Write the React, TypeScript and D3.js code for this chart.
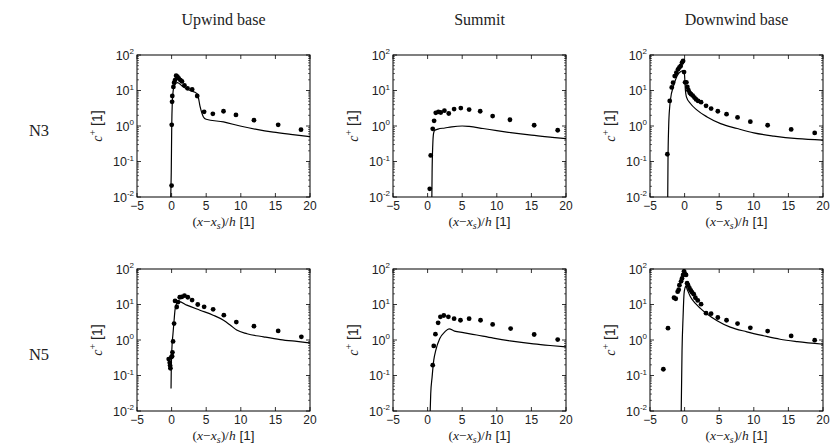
import React from "react";
import * as d3 from "d3";

const columnTitles = ["Upwind base", "Summit", "Downwind base"];
const rowLabels = ["N3", "N5"];
const xTicks = [-5, 0, 5, 10, 15, 20];
const yTickExps = [2, 1, 0, -1, -2];

// Row N3
const upN3PtsX = [0, 0.02, 0.07, 0.1, 0.26, 0.36, 0.5, 0.65, 0.84, 1.03, 1.27, 1.5, 1.85, 2.3, 2.97, 3.7, 4.7, 5.96, 7.5, 9.3, 11.9, 15.4, 18.7];
const upN3PtsY = [0.021, 1.08, 4.8, 7, 12.6, 16.6, 19.6, 26, 24.4, 22, 19.6, 18, 14, 11.5, 10.7, 7, 2.5, 2.2, 2.6, 2.05, 1.46, 1.08, 0.79];
const upN3LineX = [-0.2, -0.05, 0.02, 0.1, 0.17, 0.3, 0.5, 0.84, 1.7, 2.67, 3.63, 3.78, 4.12, 4.6, 4.99, 7.5, 9.9, 12.3, 14.7, 17.2, 20];
const upN3LineY = [0.005, 0.05, 1.0, 4.5, 7.5, 12, 15, 16.6, 12.6, 10, 8.3, 7.5, 3.5, 1.8, 1.55, 1.3, 1.0, 0.8, 0.67, 0.58, 0.5];

const suN3PtsX = [0.31, 0.45, 0.74, 0.94, 1.18, 1.56, 1.9, 2.43, 3.06, 3.83, 4.8, 6.0, 7.6, 9.4, 11.9, 15.4, 18.8];
const suN3PtsY = [0.017, 0.148, 0.83, 1.4, 2.35, 2.5, 2.4, 2.7, 2.25, 3.0, 3.2, 2.9, 2.6, 1.9, 1.5, 1.05, 0.76];
const suN3LineX = [0.6, 0.65, 0.75, 0.85, 1.0, 1.5, 2.5, 3.5, 5, 6, 8, 10, 12, 15, 18, 20];
const suN3LineY = [0.005, 0.05, 0.3, 0.6, 0.75, 0.82, 0.88, 0.95, 1.0, 0.97, 0.85, 0.74, 0.65, 0.55, 0.48, 0.44];

const dnN3PtsX = [-2.49, -2.15, -1.86, -1.67, -1.43, -1.19, -0.95, -0.75, -0.56, -0.37, -0.22, -0.08, 0.07, 0.26, 0.4, 0.55, 0.74, 0.93, 1.17, 1.42, 1.66, 1.95, 2.38, 3.1, 3.83, 4.8, 6.06, 7.65, 9.5, 12.0, 15.4, 18.8];
const dnN3PtsY = [0.16, 5.1, 12.2, 16.6, 25.5, 31.6, 39.6, 45, 49, 61, 68, 33, 17, 17, 12.6, 10.2, 8.6, 7.9, 7.2, 6.3, 5.6, 5.1, 4.7, 3.7, 3.1, 2.6, 2.15, 1.74, 1.32, 1.05, 0.8, 0.64];
const dnN3LineX = [-2.45, -2.4, -2.3, -2.15, -2.05, -1.57, -1.09, -0.6, -0.22, -0.03, 0.12, 0.26, 0.84, 1.8, 3.25, 5.2, 7.6, 10, 12.9, 16.3, 20];
const dnN3LineY = [0.005, 0.1, 1.0, 3.5, 5.4, 14, 25.5, 34, 36, 30, 10, 6.6, 4.3, 2.8, 1.8, 1.17, 0.85, 0.64, 0.52, 0.44, 0.4];

// Row N5
const upN5PtsX = [-0.42, -0.27, -0.22, -0.17, -0.03, 0.07, 0.12, 0.21, 0.36, 0.5, 0.74, 0.94, 1.18, 1.47, 1.86, 2.34, 2.96, 3.78, 4.7, 6.0, 7.55, 9.35, 11.9, 15.4, 18.75];
const upN5PtsY = [0.29, 0.23, 0.19, 0.16, 0.33, 0.35, 0.45, 0.91, 2.9, 12.6, 8.5, 11.7, 16, 16.3, 17.8, 16, 13.3, 10, 8.6, 7.3, 5.0, 3.2, 2.45, 1.8, 1.23];
const upN5LineX = [-0.08, -0.05, 0.03, 0.2, 0.36, 0.5, 0.74, 1.1, 2.2, 4.1, 6.0, 7.5, 8.5, 9.4, 10.9, 13.3, 15.7, 18.1, 20];
const upN5LineY = [0.043, 0.14, 0.51, 1.5, 3.6, 7.2, 10.7, 12, 9.6, 6.9, 5.0, 3.6, 2.6, 1.9, 1.5, 1.23, 1.03, 0.91, 0.83];

const suN5PtsX = [0.74, 0.89, 1.13, 1.52, 1.85, 2.34, 3.0, 3.83, 4.75, 6.0, 7.65, 9.4, 12.0, 15.4, 18.8];
const suN5PtsY = [0.195, 0.68, 1.46, 3.05, 4.5, 4.9, 4.5, 4.0, 3.6, 4.0, 3.6, 2.75, 2.1, 1.43, 1.03];
const suN5LineX = [0.36, 0.45, 0.65, 0.89, 1.18, 1.76, 2.5, 3.1, 3.9, 5.15, 7.1, 9.5, 11.9, 15.3, 17.7, 20];
const suN5LineY = [0.008, 0.03, 0.09, 0.27, 0.51, 1.1, 1.7, 2.07, 1.78, 1.62, 1.38, 1.13, 0.95, 0.78, 0.7, 0.64];

const dnN5PtsX = [-3.07, -2.4, -1.53, -1.28, -1.0, -0.85, -0.75, -0.51, -0.37, -0.22, -0.08, 0.07, 0.21, 0.36, 0.5, 0.7, 0.89, 1.08, 1.32, 1.56, 1.9, 2.38, 3.1, 3.83, 4.8, 6.06, 7.65, 9.5, 12.0, 15.4, 18.8];
const dnN5PtsY = [0.15, 2.15, 15.5, 14.5, 23, 26, 35, 45, 54, 68, 86, 72, 68, 40, 35, 29, 25, 22, 19.5, 15.5, 13, 10.2, 5.7, 5.5, 4.3, 3.6, 2.9, 2.2, 1.78, 1.3, 0.99];
const dnN5LineX = [-0.51, -0.37, -0.22, -0.08, 0.07, 0.16, 0.36, 0.84, 1.56, 2.28, 3.25, 4.7, 6.6, 9.0, 11.4, 13.8, 16.3, 20];
const dnN5LineY = [0.005, 0.51, 4.5, 20, 30, 33, 27, 16.6, 10.7, 7.8, 5.4, 3.5, 2.3, 1.7, 1.32, 1.05, 0.9, 0.76];

const panels = [
  [upN3PtsX, upN3PtsY, upN3LineX, upN3LineY],
  [suN3PtsX, suN3PtsY, suN3LineX, suN3LineY],
  [dnN3PtsX, dnN3PtsY, dnN3LineX, dnN3LineY],
  [upN5PtsX, upN5PtsY, upN5LineX, upN5LineY],
  [suN5PtsX, suN5PtsY, suN5LineX, suN5LineY],
  [dnN5PtsX, dnN5PtsY, dnN5LineX, dnN5LineY],
];

const W = 830;
const H = 443;
const colLeft = [137, 393, 650];
const rowTop = [55, 269];
const pw = 173;
const ph = 142;

const serif = "'Liberation Serif', 'DejaVu Serif', serif";
const sans = "'Liberation Sans', Arial, sans-serif";

function Panel({ idx }: { idx: number }) {
  const col = idx % 3;
  const row = Math.floor(idx / 3);
  const [px, py, lx, ly] = panels[idx];
  const x = d3.scaleLinear().domain([-5, 20]).range([0, pw]);
  const y = d3.scaleLog().domain([0.01, 100]).range([ph, 0]);
  const lineData = lx.map((v, i) => [v, ly[i]] as [number, number]);
  const line = d3
    .line<[number, number]>()
    .x((d) => x(d[0]))
    .y((d) => y(d[1]))
    .curve(d3.curveMonotoneX);
  const minor: number[] = [];
  for (let e = -2; e < 2; e++) {
    for (let k = 2; k <= 9; k++) minor.push(k * Math.pow(10, e));
  }
  const clipId = `clip${idx}`;
  const cx = pw / 2;
  return (
    <g transform={`translate(${colLeft[col]},${rowTop[row]})`}>
      <defs>
        <clipPath id={clipId}>
          <rect x={0} y={0} width={pw} height={ph} />
        </clipPath>
      </defs>
      <g clipPath={`url(#${clipId})`}>
        <path d={line(lineData) || ""} fill="none" stroke="black" strokeWidth={1.2} />
        {px.map((v, i) => (
          <circle key={i} cx={x(v)} cy={y(py[i])} r={2.4} fill="black" />
        ))}
      </g>
      {minor.map((m, i) => (
        <g key={"m" + i}>
          <line x1={0} x2={2} y1={y(m)} y2={y(m)} stroke="black" strokeWidth={0.6} />
          <line x1={pw - 2} x2={pw} y1={y(m)} y2={y(m)} stroke="black" strokeWidth={0.6} />
        </g>
      ))}
      {yTickExps.map((e) => (
        <g key={"y" + e}>
          <line x1={0} x2={4} y1={y(Math.pow(10, e))} y2={y(Math.pow(10, e))} stroke="black" strokeWidth={0.8} />
          <line x1={pw - 4} x2={pw} y1={y(Math.pow(10, e))} y2={y(Math.pow(10, e))} stroke="black" strokeWidth={0.8} />
          <text x={-3} y={y(Math.pow(10, e)) + 4.5} textAnchor="end" fontFamily={sans} fontSize={12.5} fill="#222">
            10
            <tspan dy={-5.5} fontSize={8}>{e}</tspan>
          </text>
        </g>
      ))}
      {xTicks.map((t) => (
        <g key={"x" + t}>
          <line x1={x(t)} x2={x(t)} y1={ph} y2={ph - 4} stroke="black" strokeWidth={0.8} />
          <line x1={x(t)} x2={x(t)} y1={0} y2={4} stroke="black" strokeWidth={0.8} />
          <text x={x(t)} y={ph + 12.5} textAnchor="middle" fontFamily={sans} fontSize={12} fill="#222">
            {t < 0 ? "\u2212" + Math.abs(t) : t}
          </text>
        </g>
      ))}
      <rect x={0} y={0} width={pw} height={ph} fill="none" stroke="black" strokeWidth={1} />
      <text x={cx} y={ph + 28.5} textAnchor="middle" fontSize={13.5} fill="#222">
        <tspan fontFamily={serif}>(</tspan>
        <tspan fontFamily={serif} fontStyle="italic">x</tspan>
        <tspan fontFamily={serif}>{"\u2212"}</tspan>
        <tspan fontFamily={serif} fontStyle="italic">x</tspan>
        <tspan fontFamily={serif} fontStyle="italic" fontSize={10} dy={3}>s</tspan>
        <tspan fontFamily={serif} dy={-3}>)/</tspan>
        <tspan fontFamily={serif} fontStyle="italic">h</tspan>
        <tspan fontFamily={sans}> [1]</tspan>
      </text>
      <text
        transform={`translate(${-35},${ph / 2}) rotate(-90)`}
        textAnchor="middle"
        fontSize={14}
        fill="#222"
      >
        <tspan fontFamily={serif} fontStyle="italic">c</tspan>
        <tspan fontFamily={serif} fontSize={10} dy={-6}>+</tspan>
        <tspan fontFamily={sans} dy={6}> [1]</tspan>
      </text>
    </g>
  );
}

export default function App() {
  return (
    <svg
      width={W}
      height={H}
      style={{ position: "absolute", left: 0, top: 0, background: "white" }}
    >
      <rect x={0} y={0} width={W} height={H} fill="white" />
      {columnTitles.map((t, i) => (
        <text key={t} x={colLeft[i] + pw / 2} y={25} textAnchor="middle" fontFamily={serif} fontSize={16} fill="#222">
          {t}
        </text>
      ))}
      {rowLabels.map((t, i) => (
        <text key={t} x={39} y={rowTop[i] + ph / 2 + (i === 0 ? 10 : 20)} textAnchor="middle" fontFamily={serif} fontSize={16.5} fill="#222">
          {t}
        </text>
      ))}
      {panels.map((_, i) => (
        <Panel key={i} idx={i} />
      ))}
    </svg>
  );
}
